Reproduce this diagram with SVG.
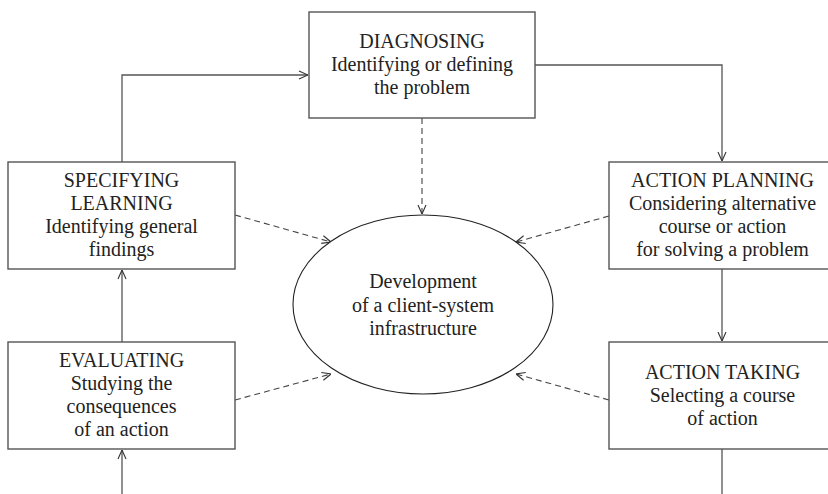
<svg xmlns="http://www.w3.org/2000/svg" width="828" height="494" viewBox="0 0 828 494">
<style>
.box{fill:#fff;stroke:#555;stroke-width:1.4}
.ell{fill:#fff;stroke:#222;stroke-width:1.1}
.t{font-family:"Liberation Serif","Times New Roman",serif;font-size:20px;fill:#222;text-anchor:middle}
.c{fill:none;stroke:#555;stroke-width:1.3}
.d{fill:none;stroke:#444;stroke-width:1.1;stroke-dasharray:6 4}
</style>
<defs>
<marker id="ah" viewBox="0 0 10 10" refX="10" refY="5" markerWidth="10" markerHeight="10" markerUnits="userSpaceOnUse" orient="auto">
<path d="M1,1 L10,5 L1,9" fill="none" stroke="#333" stroke-width="1.1"/>
</marker>
</defs>
<rect width="828" height="494" fill="#fff"/>
<g id="connectors">
<path class="c" d="M122,162 V75 H308" marker-end="url(#ah)"/>
<path class="c" d="M535,65 H722 V161" marker-end="url(#ah)"/>
<path class="c" d="M122,342 V270" marker-end="url(#ah)"/>
<path class="c" d="M122,494 V450" marker-end="url(#ah)"/>
<path class="c" d="M722,269 V341" marker-end="url(#ah)"/>
<path class="c" d="M722,449 V494"/>
<path class="d" d="M422,118 V214" marker-end="url(#ah)"/>
<path class="d" d="M235,215 L331,242" marker-end="url(#ah)"/>
<path class="d" d="M235,400 L331,374" marker-end="url(#ah)"/>
<path class="d" d="M609,216 L516,242" marker-end="url(#ah)"/>
<path class="d" d="M609,400 L516,374" marker-end="url(#ah)"/>
</g>
<g id="diagnosing">
<rect class="box" x="309" y="12" width="226" height="106"/>
<text class="t" x="422" y="48">DIAGNOSING</text>
<text class="t" x="422" y="71">Identifying or defining</text>
<text class="t" x="422" y="94">the problem</text>
</g>
<g id="specifying">
<rect class="box" x="8" y="162" width="227" height="107"/>
<text class="t" x="121.5" y="187">SPECIFYING</text>
<text class="t" x="121.5" y="210">LEARNING</text>
<text class="t" x="121.5" y="233">Identifying general</text>
<text class="t" x="121.5" y="256">findings</text>
</g>
<g id="planning">
<rect class="box" x="609" y="162" width="227" height="107"/>
<text class="t" x="722.5" y="187">ACTION PLANNING</text>
<text class="t" x="722.5" y="210">Considering alternative</text>
<text class="t" x="722.5" y="233">course or action</text>
<text class="t" x="722.5" y="256">for solving a problem</text>
</g>
<g id="evaluating">
<rect class="box" x="8" y="342" width="227" height="107"/>
<text class="t" x="121.5" y="367">EVALUATING</text>
<text class="t" x="121.5" y="390">Studying the</text>
<text class="t" x="121.5" y="413">consequences</text>
<text class="t" x="121.5" y="436">of an action</text>
</g>
<g id="taking">
<rect class="box" x="609" y="342" width="227" height="107"/>
<text class="t" x="722.5" y="379">ACTION TAKING</text>
<text class="t" x="722.5" y="402">Selecting a course</text>
<text class="t" x="722.5" y="425">of action</text>
</g>
<g id="center">
<ellipse class="ell" cx="423" cy="304.5" rx="130" ry="89.5"/>
<text class="t" x="423" y="288">Development</text>
<text class="t" x="423" y="312">of a client-system</text>
<text class="t" x="423" y="335">infrastructure</text>
</g>
</svg>
